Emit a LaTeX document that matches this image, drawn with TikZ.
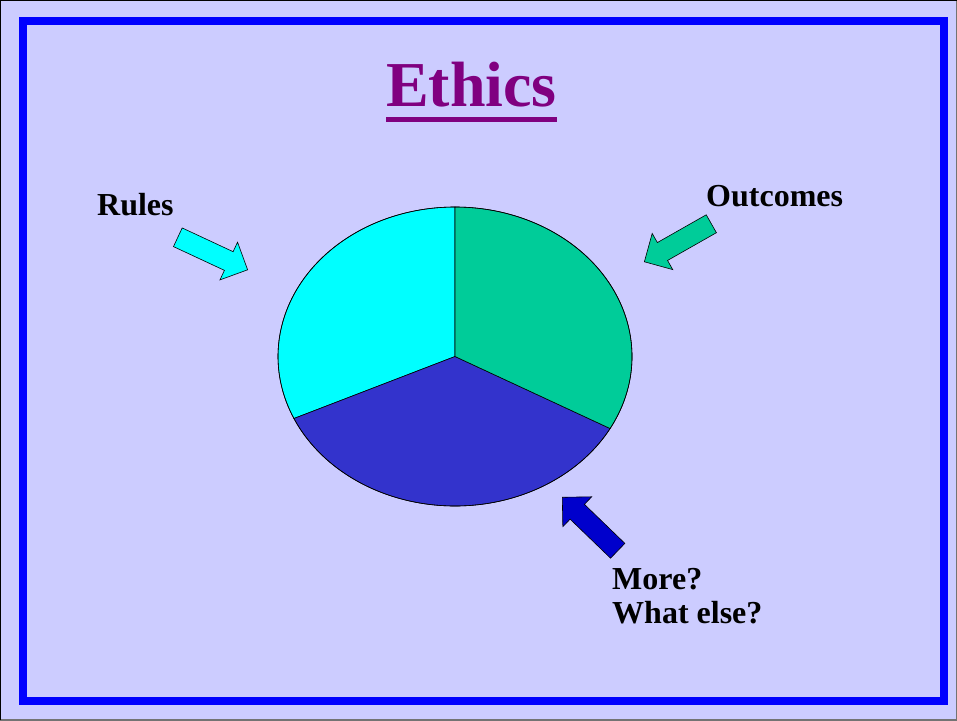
\documentclass[tikz,border=0pt]{standalone}
\usepackage{fontspec}
\setmainfont{Liberation Serif}
\usetikzlibrary{shapes.arrows}
\definecolor{slidebg}{HTML}{CCCCFF}
\definecolor{frameblue}{HTML}{0000FF}
\definecolor{titlepurple}{HTML}{800080}
\definecolor{rulescyan}{HTML}{00FFFF}
\definecolor{outcomesgreen}{HTML}{00CC99}
\definecolor{moreblue}{HTML}{3333CC}
\definecolor{morearrow}{HTML}{0000CC}
\tikzset{
	tag/.style={font=\fontsize{32}{35}\selectfont\bfseries, inner sep=0pt, anchor=base west},
	bigarrow/.style={single arrow, draw=black, line width=0.6pt, inner xsep=0pt, inner ysep=10pt, minimum height=77pt, single arrow head extend=10.5pt, anchor=tip},
	slice/.style={draw=black, line width=0.6pt}
}

\begin{document}
\begin{tikzpicture}[x=1pt,y=1pt]
				\useasboundingbox (0,0) rectangle (957,720);
				\fill[slidebg] (0,0) rectangle (957,720);
				\draw[black!55, line width=2pt] (0,0) -- (957,0) -- (957,720);
				\draw[black, line width=2pt] (0,0) -- (0,720) -- (957,720);
				\draw[frameblue, line width=8pt] (23,19) rectangle (944,699);
				
				\node[font=\fontsize{64}{70}\selectfont\bfseries, text=titlepurple, inner sep=0pt, anchor=base west] (title) at (386,613) {Ethics};
				\draw[titlepurple, line width=5pt] ([yshift=-12.5pt]title.base west) -- ([yshift=-12.5pt]title.base east);
				
				\coordinate (pie) at (455,363.5);
				\filldraw[slice, fill=rulescyan] (pie) -- +(0,149.5) arc[start angle=90, end angle=204.5, x radius=177, y radius=149.5] -- cycle;
				\filldraw[slice, fill=moreblue] (pie) -- +({177*cos(204.5)},{149.5*sin(204.5)}) arc[start angle=204.5, end angle=331.2, x radius=177, y radius=149.5] -- cycle;
				\filldraw[slice, fill=outcomesgreen] (pie) -- +({177*cos(-28.8)},{149.5*sin(-28.8)}) arc[start angle=-28.8, end angle=90, x radius=177, y radius=149.5] -- cycle;
				\draw[slice] (pie) ellipse[x radius=177, y radius=149.5];
				
				\node[bigarrow, fill=rulescyan, rotate=-25] (rulesarrow) at (248,450) {};
				\node[bigarrow, fill=outcomesgreen, rotate=209.6] (outcomesarrow) at (644,458) {};
				\node[bigarrow, fill=morearrow, rotate=136] (morearrowhead) at (562,223) {};
				
				\node[tag] (rules) at (97,504) {Rules};
				\node[tag] (outcomes) at (706,513) {Outcomes};
				\node[tag] (more) at (612,131) {More?};
				\node[tag] (whatelse) at ([yshift=-34pt]more.base west) {What else?};
\end{tikzpicture}
\end{document}
